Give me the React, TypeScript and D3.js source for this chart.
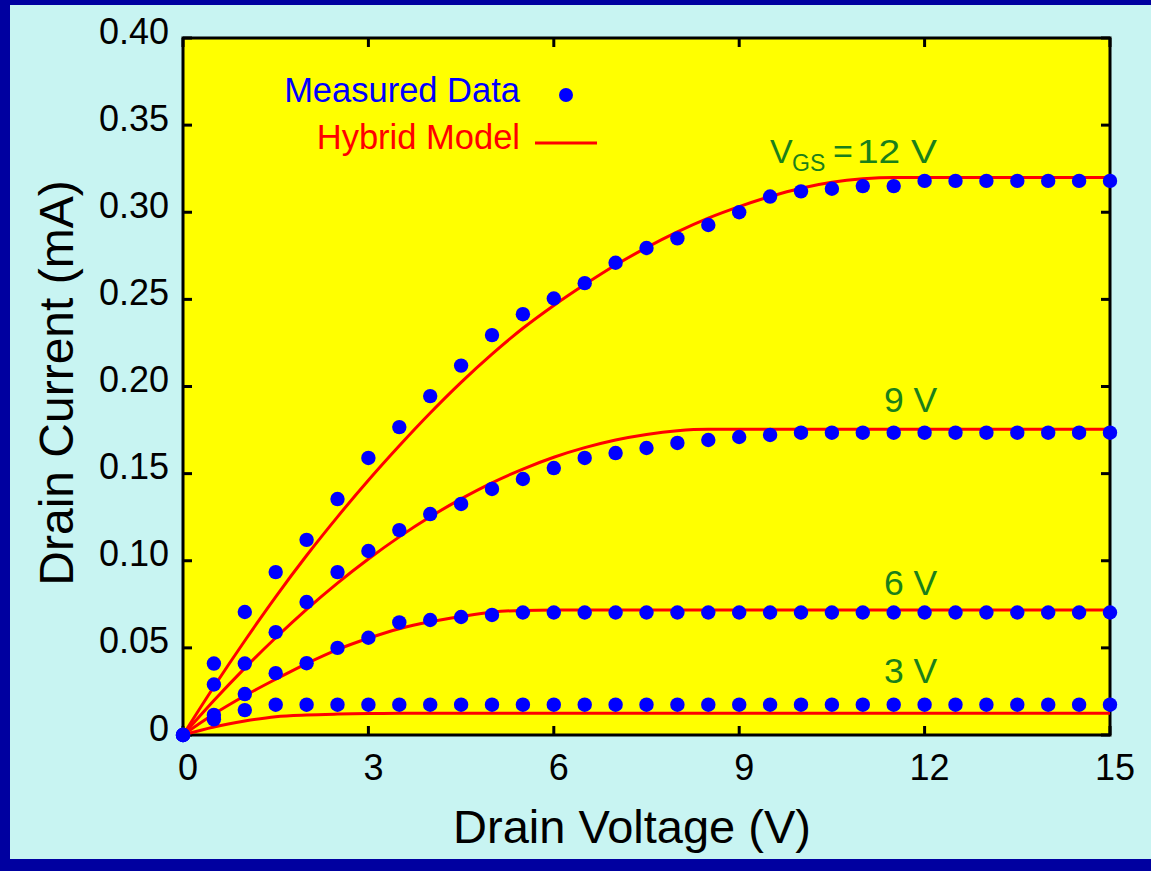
import React from "react";
import * as d3 from "d3";

// ---- data ----
const VOLTAGES = [0, 0.5, 1, 1.5, 2, 2.5, 3, 3.5, 4, 4.5, 5, 5.5, 6, 6.5, 7, 7.5, 8, 8.5, 9, 9.5, 10, 10.5, 11, 11.5, 12, 12.5, 13, 13.5, 14, 14.5, 15];

const MEASURED_12 = [0, 0.041, 0.0706, 0.0935, 0.112, 0.1354, 0.159, 0.1767, 0.1945, 0.212, 0.2295, 0.2415, 0.2505, 0.2593, 0.271, 0.2795, 0.285, 0.2927, 0.3, 0.309, 0.312, 0.3135, 0.315, 0.315, 0.318, 0.318, 0.318, 0.318, 0.318, 0.318, 0.318];
const MEASURED_9 = [0, 0.029, 0.041, 0.059, 0.0763, 0.0935, 0.1056, 0.1176, 0.1268, 0.1326, 0.1412, 0.1469, 0.1532, 0.159, 0.1618, 0.1647, 0.1676, 0.1693, 0.171, 0.1722, 0.1735, 0.1735, 0.1735, 0.1735, 0.1735, 0.1735, 0.1735, 0.1735, 0.1735, 0.1735, 0.1735];
const MEASURED_6 = [0, 0.0115, 0.0235, 0.0355, 0.0412, 0.05, 0.0558, 0.0646, 0.066, 0.0677, 0.0689, 0.0703, 0.0703, 0.0703, 0.0703, 0.0703, 0.0703, 0.0703, 0.0703, 0.0703, 0.0703, 0.0703, 0.0703, 0.0703, 0.0703, 0.0703, 0.0703, 0.0703, 0.0703, 0.0703, 0.0703];
const MEASURED_3 = [0, 0.009, 0.0143, 0.0174, 0.0174, 0.0174, 0.0174, 0.0174, 0.0174, 0.0174, 0.0174, 0.0174, 0.0174, 0.0174, 0.0174, 0.0174, 0.0174, 0.0174, 0.0174, 0.0174, 0.0174, 0.0174, 0.0174, 0.0174, 0.0174, 0.0174, 0.0174, 0.0174, 0.0174, 0.0174, 0.0174];

const MODEL_12 = [0, 0.0277, 0.0541, 0.0793, 0.103, 0.1252, 0.1462, 0.166, 0.1848, 0.2024, 0.2186, 0.2334, 0.2465, 0.2585, 0.2697, 0.2797, 0.2887, 0.2966, 0.3032, 0.309, 0.3138, 0.3172, 0.3192, 0.32, 0.32, 0.32, 0.32, 0.32, 0.32, 0.32, 0.32];
const MODEL_9 = [0, 0.0198, 0.0384, 0.0558, 0.0721, 0.0872, 0.101, 0.1137, 0.1252, 0.1355, 0.1447, 0.1526, 0.1594, 0.1649, 0.1693, 0.1725, 0.1746, 0.1754, 0.1754, 0.1754, 0.1754, 0.1754, 0.1754, 0.1754, 0.1754, 0.1754, 0.1754, 0.1754, 0.1754, 0.1754, 0.1754];
const MODEL_6 = [0, 0.012, 0.0225, 0.032, 0.041, 0.049, 0.0555, 0.061, 0.065, 0.068, 0.0705, 0.0715, 0.0717, 0.0717, 0.0717, 0.0717, 0.0717, 0.0717, 0.0717, 0.0717, 0.0717, 0.0717, 0.0717, 0.0717, 0.0717, 0.0717, 0.0717, 0.0717, 0.0717, 0.0717, 0.0717];
const MODEL_3 = [0, 0.0046, 0.008, 0.0105, 0.0115, 0.012, 0.0123, 0.0125, 0.0125, 0.0125, 0.0125, 0.0125, 0.0125, 0.0125, 0.0125, 0.0125, 0.0125, 0.0125, 0.0125, 0.0125, 0.0125, 0.0125, 0.0125, 0.0125, 0.0125, 0.0125, 0.0125, 0.0125, 0.0125, 0.0125, 0.0125];

const X_TICKS = [0, 3, 6, 9, 12, 15];
const X_TICK_LABELS = ["0", "3", "6", "9", "12", "15"];
const Y_TICKS = [0, 0.05, 0.1, 0.15, 0.2, 0.25, 0.3, 0.35, 0.4];
const Y_TICK_LABELS = ["0", "0.05", "0.10", "0.15", "0.20", "0.25", "0.30", "0.35", "0.40"];

const MEASURED_SERIES = [MEASURED_12, MEASURED_9, MEASURED_6, MEASURED_3];
const MODEL_SERIES = [MODEL_12, MODEL_9, MODEL_6, MODEL_3];

const CURVE_LABELS = ["9 V", "6 V", "3 V"];

// ---- layout / style ----
const W = 1151;
const H = 871;
const PL = 183, PR = 1110, PT = 38, PB = 735;
const FONT = "'Liberation Sans', Arial, Helvetica, sans-serif";
const GREEN = "#1a801a";
const NAVY = "#0000a0";
const CYAN = "#c8f4f2";
const CURVE_LABEL_BASELINES = [412, 595, 683];

export default function App() {
  const x = d3.scaleLinear().domain([0, 15]).range([PL, PR]);
  const y = d3.scaleLinear().domain([0, 0.4]).range([PB, PT]);
  const line = d3
    .line<number>()
    .x((_, i) => x(VOLTAGES[i]))
    .y((d) => y(d))
    .curve(d3.curveMonotoneX);

  const tickLen = 9;

  return (
    <>
      <style>{`html,body{margin:0;padding:0;background:${CYAN};overflow:hidden;}`}</style>
      <svg
        width={W}
        height={H}
        style={{ position: "absolute", left: 0, top: 0, display: "block" }}
        fontFamily={FONT}
      >
        <rect x={0} y={0} width={W} height={H} fill={CYAN} />
        <rect x={0} y={0} width={W} height={5} fill={NAVY} />
        <rect x={0} y={0} width={10} height={H} fill={NAVY} />
        <rect x={0} y={859} width={W} height={H - 859} fill={NAVY} />
        <rect x={PL} y={PT} width={PR - PL} height={PB - PT} fill="#ffff00" />

        {/* ticks */}
        {Y_TICKS.map((t, i) => (
          <g key={"yt" + i}>
            <line x1={PL} x2={PL + tickLen} y1={y(t)} y2={y(t)} stroke="#000" strokeWidth={3} />
            <line x1={PR} x2={PR - tickLen} y1={y(t)} y2={y(t)} stroke="#000" strokeWidth={3} />
            <text x={169} y={y(t) + 5.5} fontSize={36} textAnchor="end" fill="#000">
              {Y_TICK_LABELS[i]}
            </text>
          </g>
        ))}
        {X_TICKS.map((t, i) => (
          <g key={"xt" + i}>
            <line x1={x(t)} x2={x(t)} y1={PB} y2={PB - tickLen} stroke="#000" strokeWidth={3} />
            <line x1={x(t)} x2={x(t)} y1={PT} y2={PT + tickLen} stroke="#000" strokeWidth={3} />
            <text x={x(t) + 5} y={780} fontSize={36} textAnchor="middle" fill="#000">
              {X_TICK_LABELS[i]}
            </text>
          </g>
        ))}

        {/* frame */}
        <rect x={PL} y={PT} width={PR - PL} height={PB - PT} fill="none" stroke="#000" strokeWidth={3} />

        {/* model curves */}
        {MODEL_SERIES.map((s, i) => (
          <path key={"m" + i} d={line(s) || ""} fill="none" stroke="#ff0000" strokeWidth={3} />
        ))}

        {/* measured dots */}
        {MEASURED_SERIES.map((s, si) =>
          s.map((v, i) => (
            <circle key={"d" + si + "-" + i} cx={x(VOLTAGES[i])} cy={y(v)} r={7.2} fill="#0000ff" />
          ))
        )}

        {/* legend */}
        <text x={520} y={102} fontSize={34.5} textAnchor="end" fill="#0000ff">Measured Data</text>
        <circle cx={566} cy={95} r={7} fill="#0000ff" />
        <text x={520} y={149} fontSize={34.5} textAnchor="end" fill="#ff0000">Hybrid Model</text>
        <line x1={535} x2={597} y1={143} y2={143} stroke="#ff0000" strokeWidth={3} />

        {/* curve labels */}
        <text x={770} y={163} fontSize={34} fill={GREEN}>
          V<tspan x={792} fontSize={23} dy={8}>GS</tspan>
          <tspan x={833} dy={-8}>=</tspan>
        </text>
        <text x={857} y={163} fontSize={34} fill={GREEN} textLength={80} lengthAdjust="spacingAndGlyphs">
          12 V
        </text>
        {CURVE_LABELS.map((lab, i) => (
          <text key={"cl" + i} x={884} y={CURVE_LABEL_BASELINES[i]} fontSize={35.5} fill={GREEN}>
            {lab}
          </text>
        ))}

        {/* axis titles */}
        <text x={632} y={843} fontSize={47} textAnchor="middle" fill="#000">Drain Voltage (V)</text>
        <text
          transform={`translate(73, 383) rotate(-90)`}
          fontSize={48}
          textAnchor="middle"
          fill="#000"
        >
          Drain Current (mA)
        </text>
      </svg>
    </>
  );
}
